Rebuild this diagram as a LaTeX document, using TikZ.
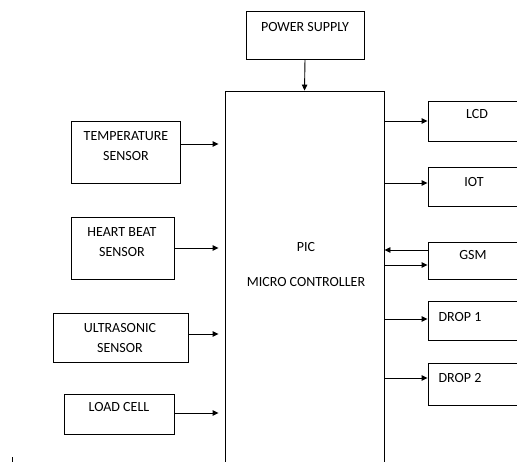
\documentclass[tikz,border=0pt]{standalone}
\usepackage{fontspec}
\setmainfont{Carlito}
\usetikzlibrary{arrows.meta}
\tikzset{
  blk/.style={rectangle,draw,line width=.9pt,inner sep=0pt},
  lbl/.style={align=center,inner sep=0pt,font=\fontsize{14}{20}\selectfont},
  arr/.style={line width=.9pt,-{Triangle[length=6pt,width=5.5pt]}}
}
\begin{document}
\begin{tikzpicture}[x=1pt,y=-1pt]
\useasboundingbox (0,0) rectangle (517,462);
\clip (0,0) rectangle (517,462);
% controller and supply
\node[blk,minimum width=159pt,minimum height=398pt] (mc) at (304.5,290) {};
\node[lbl] (mcl) at (306,265) {PIC\\[15pt]MICRO CONTROLLER};
\node[blk,minimum width=118pt,minimum height=48pt] (ps) at (305,35) {};
\node[lbl] (psl) at (305,27) {POWER SUPPLY};
\draw[arr] (ps.south) -- (mc.north);
% inputs
\node[blk,minimum width=109pt,minimum height=62pt] (temp) at (125.5,152) {};
\node[lbl] (templ) at (126,146) {TEMPERATURE\\SENSOR};
\node[blk,minimum width=103pt,minimum height=62pt] (heart) at (122.5,248) {};
\node[lbl] (heartl) at (122,242.5) {HEART BEAT\\SENSOR};
\node[blk,minimum width=135pt,minimum height=49pt] (ultra) at (120.5,337.5) {};
\node[lbl] (ultral) at (120,338) {ULTRASONIC\\SENSOR};
\node[blk,minimum width=110pt,minimum height=40pt] (load) at (119,414) {};
\node[lbl] (loadl) at (119,407) {LOAD CELL};
\draw[arr,shorten >=6pt] (temp.east |- 0,144) -- (mc.west |- 0,144);
\draw[arr,shorten >=6pt] (heart.east |- 0,248) -- (mc.west |- 0,248);
\draw[arr,shorten >=6pt] (ultra.east |- 0,334) -- (mc.west |- 0,334);
\draw[arr,shorten >=6pt] (load.east |- 0,413) -- (mc.west |- 0,413);
% outputs
\node[blk,minimum width=112pt,minimum height=40pt] (lcd) at (484,121) {};
\node[lbl] (lcdl) at (477,114) {LCD};
\node[blk,minimum width=112pt,minimum height=39pt] (iot) at (484,186.5) {};
\node[lbl] (iotl) at (474,182) {IOT};
\node[blk,minimum width=112pt,minimum height=37pt] (gsm) at (484,260.5) {};
\node[lbl] (gsml) at (473,255) {GSM};
\node[blk,minimum width=112pt,minimum height=39pt] (drop1) at (484,320.5) {};
\node[lbl] (drop1l) at (460,317) {DROP 1};
\node[blk,minimum width=112pt,minimum height=42pt] (drop2) at (484,384) {};
\node[lbl] (drop2l) at (460,378) {DROP 2};
\draw[arr] (mc.east |- 0,121) -- (lcd.west |- 0,121);
\draw[arr] (mc.east |- 0,183) -- (iot.west |- 0,183);
\draw[arr] (gsm.west |- 0,250) -- (mc.east |- 0,250);
\draw[arr] (mc.east |- 0,265) -- (gsm.west |- 0,265);
\draw[arr] (mc.east |- 0,319) -- (drop1.west |- 0,319);
\draw[arr] (mc.east |- 0,378) -- (drop2.west |- 0,378);
% stray mark
\draw[line width=1pt] (12,457) -- (12,462);
\end{tikzpicture}
\end{document}
